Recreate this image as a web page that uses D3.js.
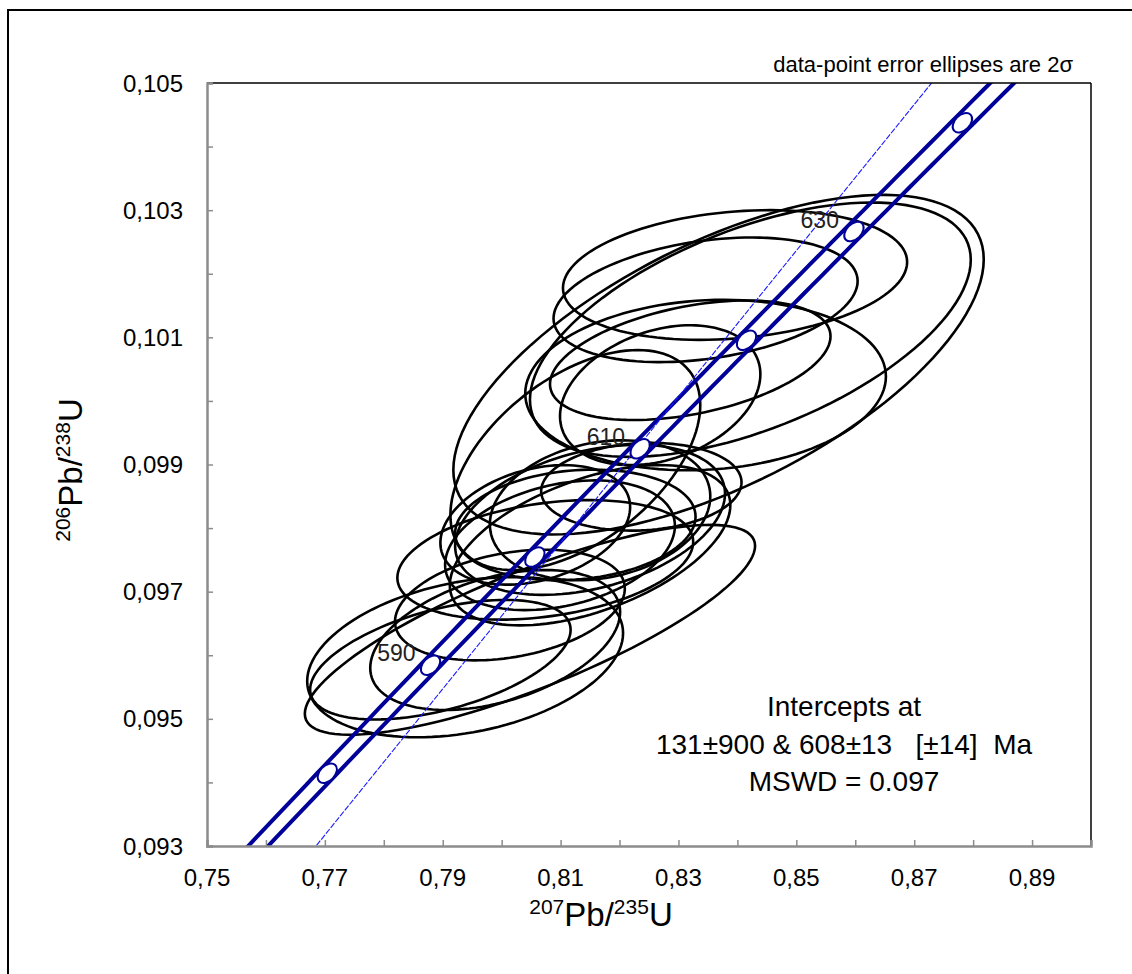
<!DOCTYPE html>
<html>
<head>
<meta charset="utf-8">
<script src="https://cdn.jsdelivr.net/npm/d3@7"></script>
<style>
  body { margin: 0; background: #fff; }
  text { font-family: "Liberation Sans", Arial, sans-serif; fill: #000; white-space: pre; }
</style>
</head>
<body>
<div id="chart"></div>
<script>
// decay constants (1/yr) and band width used for concordia
var LAMBDA238 = 1.55125e-10,
    LAMBDA235 = 9.8485e-10,
    BAND_ERR = 0.0017   // relative, spreads the concordia band

var xTicks = [0.75, 0.77, 0.79, 0.81, 0.83, 0.85, 0.87, 0.89]
var yTicks = [0.093, 0.095, 0.097, 0.099, 0.101, 0.103, 0.105]

// age markers on concordia (Ma) and which get a label
var markerAges = [580, 590, 600, 610, 620, 630, 640]
var labelAges = [590, 610, 630]

// discordia intercepts (Ma)
var intercepts = [131, 608]

// data-point ellipses: 207/235, 206/238, 2s errors, rho
var pbU235 = [0.8368, 0.8422, 0.8396, 0.8346, 0.8346, 0.8320, 0.8269, 0.8237, 0.8125, 0.8125, 0.8150,
              0.8167, 0.8099, 0.8150, 0.8074, 0.8048, 0.7938, 0.7989, 0.7896, 0.8014, 0.8057]
var pbU238 = [0.10057, 0.10112, 0.10198, 0.10025, 0.10159, 0.10064, 0.10009, 0.09865, 0.09907, 0.09805, 0.09813,
              0.09828, 0.09773, 0.09773, 0.09750, 0.09640, 0.09597, 0.09624, 0.09593, 0.09679, 0.09805]
var err235 = [0.0450, 0.0374, 0.0292, 0.0306, 0.0258, 0.0238, 0.0170, 0.0170, 0.0212, 0.0204, 0.0229,
              0.0187, 0.0195, 0.0238, 0.0251, 0.0382, 0.0268, 0.0212, 0.0221, 0.0195, 0.0161]
var err238 = [0.00267, 0.00200, 0.00102, 0.00134, 0.00098, 0.00094, 0.00110, 0.00069, 0.00173, 0.00087, 0.00118,
              0.00110, 0.00102, 0.00126, 0.00094, 0.00165, 0.00126, 0.00110, 0.00094, 0.00087, 0.00094]
var rho = [0.62, 0.55, 0.2, 0.1, 0.3, 0.4, 0.3, 0.1, 0.5, 0.15, 0.35,
           0.2, 0.3, 0.5, 0.3, 0.8, 0.3, 0.4, 0.5, 0.3, 0.3]

var resultLines = ['Intercepts at', '131\u00b1900 & 608\u00b113   [\u00b114]  Ma', 'MSWD = 0.097']

var W = 1132, H = 974
var svg = d3.select('#chart').append('svg').attr('width', W).attr('height', H)

// outer frame
svg.append('rect')
  .attr('x', 8).attr('y', 10).attr('width', 1140).attr('height', 1000)
  .style('fill', 'none').style('stroke', '#000').style('stroke-width', 2)

var x = d3.scaleLinear().domain([0.75, 0.90]).range([207, 1091])
var y = d3.scaleLinear().domain([0.093, 0.105]).range([846, 83])

svg.append('clipPath').attr('id', 'plotclip')
  .append('rect').attr('x', 207).attr('y', 83).attr('width', 884).attr('height', 763)

var plot = svg.append('g').attr('clip-path', 'url(#plotclip)')

// ellipses
var ellData = pbU235.map(function(d, i){
  return {x: d, y: pbU238[i], sx: err235[i], sy: err238[i], r: rho[i]}
})
var line = d3.line().x(d => x(d[0])).y(d => y(d[1])).curve(d3.curveLinearClosed)
function ellipsePts(e){
  var pts = []
  for (var k = 0; k < 120; k++){
    var t = k / 120 * 2 * Math.PI
    pts.push([e.x + e.sx * Math.cos(t),
              e.y + e.sy * (e.r * Math.cos(t) + Math.sqrt(1 - e.r * e.r) * Math.sin(t))])
  }
  return pts
}
plot.selectAll('path.ell')
  .data(ellData)
  .enter().append('path')
  .attr('class', 'ell')
  .attr('d', d => line(ellipsePts(d)))
  .style('fill', 'none').style('stroke', '#000').style('stroke-width', 2.6)

// concordia band
function conc(t, f){
  return [Math.exp(LAMBDA235 * t * 1e6) - 1 + f * (Math.exp(LAMBDA235 * t * 1e6)) * LAMBDA235 * t * 1e6 * BAND_ERR,
          Math.exp(LAMBDA238 * t * 1e6) - 1]
}
var openLine = d3.line().x(d => x(d[0])).y(d => y(d[1]))
;[-1, 1].forEach(function(f){
  var pts = d3.range(560, 660, 1).map(t => conc(t, f))
  plot.append('path').attr('d', openLine(pts))
    .style('fill', 'none').style('stroke', '#000099').style('stroke-width', 4)
})

// discordia
var p1 = conc(intercepts[0], 0), p2 = conc(intercepts[1], 0)
var slope = (p2[1] - p1[1]) / (p2[0] - p1[0])
var yA = 0.092, yB = 0.106
plot.append('line')
  .attr('x1', x(p2[0] + (yA - p2[1]) / slope)).attr('y1', y(yA))
  .attr('x2', x(p2[0] + (yB - p2[1]) / slope)).attr('y2', y(yB))
  .style('stroke', '#1a1aff').style('stroke-width', 1.1).style('stroke-dasharray', '6,1.5')

// age markers
markerAges.forEach(function(a){
  var p = conc(a, 0), q = conc(a + 1, 0)
  var ang = Math.atan2(y(q[1]) - y(p[1]), x(q[0]) - x(p[0])) * 180 / Math.PI
  plot.append('ellipse')
    .attr('transform', 'translate(' + x(p[0]) + ',' + y(p[1]) + ') rotate(' + ang + ')')
    .attr('rx', 11.5).attr('ry', 7.5)
    .style('fill', '#fff').style('stroke', '#000099').style('stroke-width', 2)
})
labelAges.forEach(function(a){
  var p = conc(a, 0)
  svg.append('text')
    .attr('x', x(p[0]) - 15).attr('y', y(p[1]) - 4)
    .attr('text-anchor', 'end')
    .style('font-size', '23px').style('fill', '#222')
    .text(a)
})

// axes
var axisColor = '#8c8c8c'
svg.append('line').attr('x1', 207).attr('x2', 1091).attr('y1', 83).attr('y2', 83)
  .style('stroke', '#000').style('stroke-width', 1.5)
svg.append('line').attr('x1', 1091).attr('x2', 1091).attr('y1', 83).attr('y2', 846)
  .style('stroke', '#000').style('stroke-width', 1.5)

var axisX = d3.axisBottom(x).tickValues(d3.range(0.75, 0.9001, 0.01)).tickSize(-6).tickFormat('')
var gx = svg.append('g').attr('transform', 'translate(0,846)').call(axisX)
var axisY = d3.axisLeft(y).tickValues(d3.range(0.093, 0.10501, 0.001)).tickSize(-6).tickFormat('')
var gy = svg.append('g').attr('transform', 'translate(207,0)').call(axisY)
;[gx, gy].forEach(function(g){
  g.select('.domain').style('stroke', axisColor).style('stroke-width', 2.5)
  g.selectAll('.tick line').style('stroke', axisColor).style('stroke-width', 1.5)
})

var fmt = function(d, n){ return d3.format('.' + n + 'f')(d).replace('.', ',') }
svg.selectAll('text.xlab').data(xTicks).enter().append('text')
  .attr('class', 'xlab')
  .attr('x', d => x(d)).attr('y', 886)
  .attr('text-anchor', 'middle').style('font-size', '24px')
  .text(d => fmt(d, 2))
svg.selectAll('text.ylab').data(yTicks).enter().append('text')
  .attr('class', 'ylab')
  .attr('x', 183).attr('y', d => y(d) + 8.5)
  .attr('text-anchor', 'end').style('font-size', '24px')
  .text(d => fmt(d, 3))

// axis titles
function isoTitle(sel, a, b){
  sel.append('tspan').text(a).style('font-size', '21px').attr('dy', '-12')
  sel.append('tspan').text('Pb/').style('font-size', '33px').attr('dy', '12')
  sel.append('tspan').text(b).style('font-size', '21px').attr('dy', '-12')
  sel.append('tspan').text('U').style('font-size', '33px').attr('dy', '12')
}
var xt = svg.append('text').attr('x', 601).attr('y', 926).attr('text-anchor', 'middle')
isoTitle(xt, '207', '235')
var yt = svg.append('text').attr('transform', 'translate(82,470) rotate(-90)').attr('text-anchor', 'middle')
isoTitle(yt, '206', '238')

svg.append('text').attr('x', 1073).attr('y', 72).attr('text-anchor', 'end')
  .style('font-size', '22px').text('data-point error ellipses are 2\u03c3')

svg.selectAll('text.res').data(resultLines).enter().append('text')
  .attr('class', 'res')
  .attr('x', 844).attr('y', (d, i) => 716 + i * 37.5)
  .attr('text-anchor', 'middle').style('font-size', '28px')
  .text(d => d)
</script>
</body>
</html>
